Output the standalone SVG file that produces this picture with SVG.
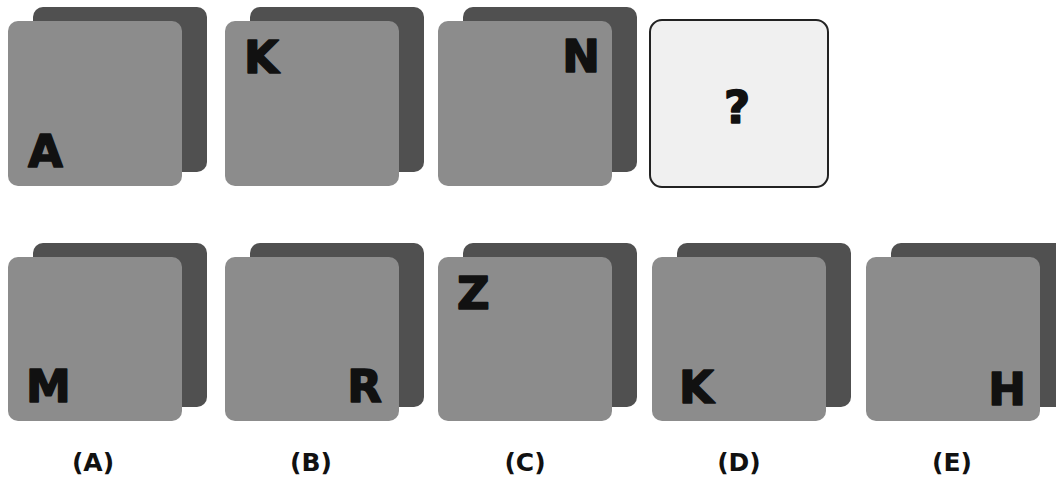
<svg xmlns="http://www.w3.org/2000/svg" width="1056" height="478" viewBox="0 0 1056 478">
<style>
.back{fill:#505050}
.front{fill:#8c8c8c}
.q{fill:#f0f0f0;stroke:#222;stroke-width:2}
.let{font-family:"DejaVu Sans",sans-serif;font-weight:bold;font-size:45px;fill:#111;stroke:#111;stroke-width:1.6;stroke-linejoin:round}
.lab{font-family:"DejaVu Sans",sans-serif;font-weight:bold;font-size:25px;fill:#111;text-anchor:middle}
</style>
<rect width="1056" height="478" fill="#ffffff"/>
<g id="q1">
<rect class="back" x="33" y="7" width="174" height="165" rx="10"/>
<rect class="front" x="8" y="21" width="174" height="165" rx="10"/>
<text class="let" x="28" y="167">A</text>
</g>
<g id="q2">
<rect class="back" x="250" y="7" width="174" height="165" rx="10"/>
<rect class="front" x="225" y="21" width="174" height="165" rx="10"/>
<text class="let" x="244" y="73">K</text>
</g>
<g id="q3">
<rect class="back" x="463" y="7" width="174" height="165" rx="10"/>
<rect class="front" x="438" y="21" width="174" height="165" rx="10"/>
<text class="let" x="600" y="72" text-anchor="end">N</text>
</g>
<g id="q4">
<rect class="q" x="650" y="20" width="178" height="167" rx="12"/>
<text class="let" x="737" y="123" text-anchor="middle" font-size="48">?</text>
</g>
<g id="optA">
<rect class="back" x="33" y="243" width="174" height="164" rx="10"/>
<rect class="front" x="8" y="257" width="174" height="164" rx="10"/>
<text class="let" x="26" y="402">M</text>
<text class="lab" x="93" y="471">(A)</text>
</g>
<g id="optB">
<rect class="back" x="250" y="243" width="174" height="164" rx="10"/>
<rect class="front" x="225" y="257" width="174" height="164" rx="10"/>
<text class="let" x="382" y="402" text-anchor="end">R</text>
<text class="lab" x="311" y="471">(B)</text>
</g>
<g id="optC">
<rect class="back" x="463" y="243" width="174" height="164" rx="10"/>
<rect class="front" x="438" y="257" width="174" height="164" rx="10"/>
<text class="let" x="457" y="309">Z</text>
<text class="lab" x="525" y="471">(C)</text>
</g>
<g id="optD">
<rect class="back" x="677" y="243" width="174" height="164" rx="10"/>
<rect class="front" x="652" y="257" width="174" height="164" rx="10"/>
<text class="let" x="679" y="403">K</text>
<text class="lab" x="739" y="471">(D)</text>
</g>
<g id="optE">
<rect class="back" x="891" y="243" width="174" height="164" rx="10"/>
<rect class="front" x="866" y="257" width="174" height="164" rx="10"/>
<text class="let" x="1026" y="405" text-anchor="end">H</text>
<text class="lab" x="952" y="471">(E)</text>
</g>
<g id="connectors"/>
</svg>
